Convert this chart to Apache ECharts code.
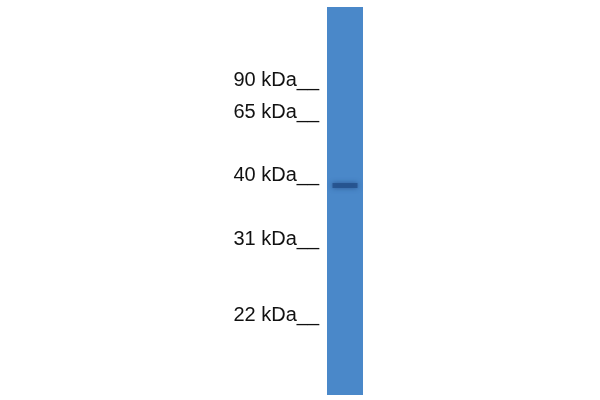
<!DOCTYPE html>
<html>
<head>
<meta charset="utf-8">
<script src="https://cdn.jsdelivr.net/npm/echarts@6/dist/echarts.min.js"></script>
<style>
html,body{margin:0;padding:0;background:#fff;}
#c{width:600px;height:400px;}
</style>
</head>
<body>
<div id="c"></div>
<script>
// Marker ladder (label, migration distance in px from top of lane)
const markerLabels = ['90 kDa', '65 kDa', '40 kDa', '31 kDa', '22 kDa'];
const markerPositions = [73, 105, 168, 232, 308];
// Lanes and detected band
const lanes = ['Sample'];
const laneLength = [388];
const bandPositions = [178.5];

const chart = echarts.init(document.getElementById('c'));
chart.setOption({
  backgroundColor: '#ffffff',
  animation: false,
  grid: { left: 327, top: 7, width: 36, height: 388 },
  xAxis: {
    type: 'category',
    data: lanes,
    show: false
  },
  yAxis: {
    type: 'value',
    inverse: true,
    min: 0,
    max: laneLength[0],
    axisLine: { show: false },
    axisTick: { show: false },
    splitLine: { show: false },
    axisLabel: {
      customValues: markerPositions,
      margin: 8,
      fontFamily: 'Liberation Sans, Arial, sans-serif',
      fontSize: 20,
      color: '#111111',
      formatter: function (v) {
        const i = markerPositions.indexOf(v);
        return i >= 0 ? markerLabels[i] + '__' : '';
      }
    }
  },
  series: [
    {
      type: 'bar',
      data: laneLength,
      barWidth: '100%',
      itemStyle: { color: '#4a88c9' },
      silent: true
    },
    {
      type: 'scatter',
      data: bandPositions.map(function (p) { return [lanes[0], p]; }),
      symbol: 'rect',
      symbolSize: [25, 5],
      itemStyle: {
        color: '#234f8a',
        shadowBlur: 5,
        shadowColor: 'rgba(30,68,125,0.9)'
      },
      silent: true
    }
  ]
});
</script>
</body>
</html>
